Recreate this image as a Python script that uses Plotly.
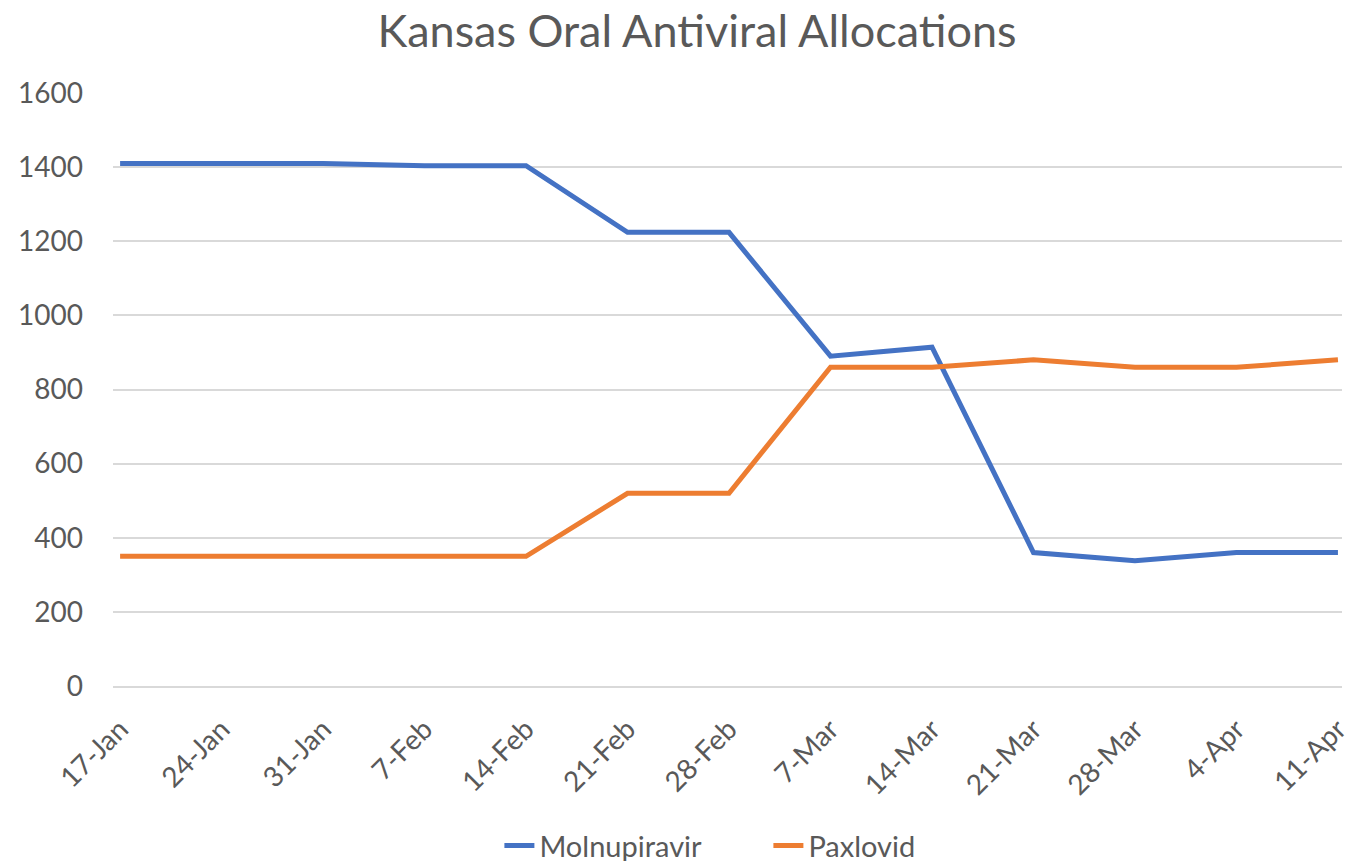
import plotly.graph_objects as go

dates = ["17-Jan", "24-Jan", "31-Jan", "7-Feb", "14-Feb", "21-Feb", "28-Feb",
         "7-Mar", "14-Mar", "21-Mar", "28-Mar", "4-Apr", "11-Apr"]
molnupiravir = [1410, 1410, 1410, 1404, 1404, 1224, 1224, 890, 914, 360, 338, 360, 360]
paxlovid = [350, 350, 350, 350, 350, 520, 520, 860, 860, 880, 860, 860, 880]

fig = go.Figure()
fig.add_trace(go.Scatter(x=dates, y=molnupiravir, name="Molnupiravir", mode="lines",
                         line=dict(color="#4472C4", width=5)))
fig.add_trace(go.Scatter(x=dates, y=paxlovid, name="Paxlovid", mode="lines",
                         line=dict(color="#ED7D31", width=5)))

fig.update_layout(
    width=1359, height=861,
    paper_bgcolor="white", plot_bgcolor="white",
    font=dict(family="Lato, Carlito, sans-serif", color="#595959", size=28),
    title=dict(text="Kansas Oral Antiviral Allocations", xref="container", x=0.507,
               xanchor="center", y=0.9735, yanchor="middle",
               font=dict(size=45, color="#595959")),
    margin=dict(l=105, r=25, t=85, b=183),
    showlegend=True,
    legend=dict(orientation="h", x=0.3144, xanchor="left",
                yref="container", y=0.027, yanchor="middle",
                font=dict(size=29, color="#595959"), entrywidth=224, entrywidthmode="pixels"),
    xaxis=dict(type="category", range=[-0.07, 12.04], showgrid=False, automargin=False,
               showline=True, linecolor="#D9D9D9", linewidth=1.5,
               ticks="", tickangle=-45, ticklabelstandoff=14,
               tickfont=dict(size=28, color="#595959")),
    yaxis=dict(range=[0, 1600], dtick=200, showgrid=True, gridcolor="#D9D9D9",
               gridwidth=1.5, zeroline=False, ticks="", ticklabelstandoff=29,
               automargin=False, tickfont=dict(size=28, color="#595959")),
)

fig.write_html("out.html")
